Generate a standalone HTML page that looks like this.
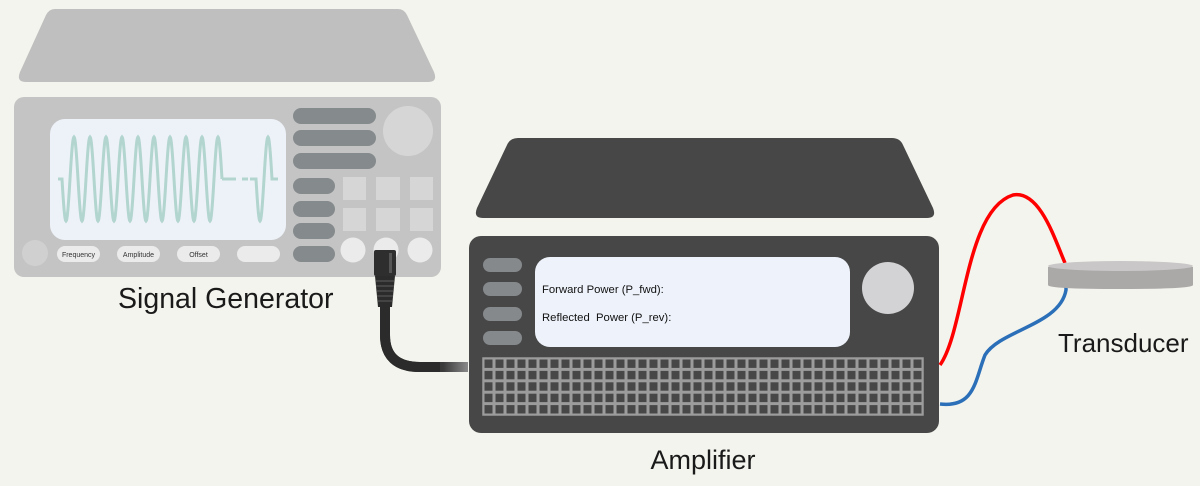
<!DOCTYPE html>
<html><head><meta charset="utf-8"><style>
html,body{margin:0;padding:0;background:#f4f4ee;}
svg{display:block;}
text{font-family:"Liberation Sans",sans-serif;}
</style></head><body>
<svg id="s" width="1200" height="486" viewBox="0 0 1200 486" xmlns="http://www.w3.org/2000/svg">
<defs>
<pattern id="g" x="483" y="358" width="11" height="11.4" patternUnits="userSpaceOnUse">
<rect width="11" height="11.4" fill="#9c9c9c"/>
<rect x="1.5" y="1.5" width="8" height="8.4" fill="#474747"/>
</pattern>
<linearGradient id="cg" x1="0" x2="1" y1="0" y2="0">
<stop offset="0" stop-color="#2b2b2b"/><stop offset="0.7" stop-color="#3a3a3a"/><stop offset="1" stop-color="#8a8a8a"/>
</linearGradient>
</defs>
<rect width="1200" height="486" fill="#f4f4ee"/>
<!-- Signal generator -->
<path d="M55 9 H398 Q404 9 407 15 L434 72 Q438 82 428 82 H26 Q16 82 20 72 L46 15 Q49 9 55 9 Z" fill="#bfbfbf"/>
<rect x="14" y="97" width="427" height="180" rx="10" fill="#c4c4c4"/>
<rect x="50" y="119" width="236" height="121" rx="15" fill="#edf2f8"/>
<g id="wave" fill="none" stroke="#b2d5cf" stroke-width="3"></g>
<g fill="#858a8c">
<rect x="293" y="108" width="83" height="16" rx="8"/>
<rect x="293" y="130" width="83" height="16" rx="8"/>
<rect x="293" y="153" width="83" height="16" rx="8"/>
<rect x="293" y="178" width="42" height="16" rx="8"/>
<rect x="293" y="201" width="42" height="16" rx="8"/>
<rect x="293" y="223" width="42" height="16" rx="8"/>
<rect x="293" y="246" width="42" height="16" rx="8"/>
</g>
<g fill="#d6d6d6">
<rect x="343" y="177" width="23" height="23"/><rect x="376" y="177" width="24" height="23"/><rect x="410" y="177" width="23" height="23"/>
<rect x="343" y="208" width="23" height="23"/><rect x="376" y="208" width="24" height="23"/><rect x="410" y="208" width="23" height="23"/>
</g>
<circle cx="408" cy="131" r="25" fill="#d6d6d6"/>
<g fill="#ebebeb">
<circle cx="353" cy="250" r="12.5"/><circle cx="386" cy="250" r="12.5"/><circle cx="420" cy="250" r="12.5"/>
<rect x="57" y="246" width="43" height="16" rx="8"/><rect x="117" y="246" width="43" height="16" rx="8"/>
<rect x="177" y="246" width="43" height="16" rx="8"/><rect x="237" y="246" width="43" height="16" rx="8"/>
</g>
<circle cx="35" cy="253" r="13" fill="#d0d0d0"/>
<g font-size="7" fill="#333" text-anchor="middle">
<text x="78.5" y="257">Frequency</text><text x="138.5" y="257">Amplitude</text><text x="198.5" y="257">Offset</text>
</g>
<text x="118" y="308" font-size="28.5" fill="#1a1a1a">Signal Generator</text>
<!-- cable -->
<path d="M385 300 V335 Q385 367 420 367 H468" fill="none" stroke="url(#cg)" stroke-width="10"/>
<path d="M385 300 V335 Q385 367 420 367 H440" fill="none" stroke="#2b2b2b" stroke-width="10"/>
<rect x="374" y="250" width="22" height="26" rx="2" fill="#2e2e2e"/>
<rect x="389" y="253" width="3" height="20" fill="#555"/>
<path d="M375 276 H395 L392 307 H378 Z" fill="#2b2b2b"/>
<g stroke="#555" stroke-width="1.2"><line x1="376" y1="281" x2="394" y2="281"/><line x1="376" y1="286" x2="394" y2="286"/><line x1="377" y1="291" x2="393" y2="291"/><line x1="377" y1="296" x2="393" y2="296"/><line x1="378" y1="301" x2="392" y2="301"/></g>
<!-- Amplifier -->
<path d="M518 138 H892 Q900 138 903 145 L933 208 Q937 218 927 218 H483 Q473 218 477 208 L507 145 Q510 138 518 138 Z" fill="#474747"/>
<rect x="469" y="236" width="470" height="197" rx="12" fill="#474747"/>
<g fill="#85898b">
<rect x="483" y="258" width="39" height="14" rx="7"/><rect x="483" y="282" width="39" height="14" rx="7"/>
<rect x="483" y="307" width="39" height="14" rx="7"/><rect x="483" y="331" width="39" height="14" rx="7"/>
</g>
<rect x="535" y="257" width="315" height="90" rx="15" fill="#eef3fb"/>
<text x="542" y="293" font-size="11.3" fill="#111">Forward Power (P_fwd):</text>
<text x="542" y="321" font-size="11.3" fill="#111" xml:space="preserve">Reflected  Power (P_rev):</text>
<circle cx="888" cy="288" r="26" fill="#d3d3d5"/>
<rect x="483" y="358" width="440" height="57" fill="url(#g)" stroke="#9c9c9c" stroke-width="1.5"/>
<text x="703" y="469" font-size="27" fill="#1a1a1a" text-anchor="middle">Amplifier</text>
<!-- wires -->
<path d="M940 365 C965 330 965 210 1013 195 C1040 190 1055 240 1065 263" fill="none" stroke="#f00" stroke-width="3.5"/>
<path d="M940 404 C975 408 975 380 985 355 C1000 330 1060 325 1066 290 V286" fill="none" stroke="#2a6fb8" stroke-width="3.5"/>
<!-- transducer -->
<path d="M1048 267 V285 Q1048 289 1120 289 Q1193 289 1193 285 V267 Z" fill="#aba8a8"/>
<ellipse cx="1120.5" cy="266" rx="72.5" ry="5" fill="#c9c7c7"/>
<text x="1058" y="352" font-size="26" fill="#1a1a1a">Transducer</text>
</svg>
<script>
(function(){
var ns="http://www.w3.org/2000/svg",g=document.getElementById("wave");
function add(d){var p=document.createElementNS(ns,"path");p.setAttribute("d",d);g.appendChild(p);}
var y0=179,A=42,x0=62,per=16,n=10,d="M"+(x0-4)+" "+y0+" H"+x0;
for(var i=0;i<=n*40;i++){var x=x0+i*per/40;d+=" L"+x.toFixed(2)+" "+(y0+A*Math.sin(-2*Math.PI*i/40+Math.PI)).toFixed(2);}
add(d);
add("M"+(x0+n*per)+" "+y0+" H"+(x0+n*per+8));
add("M230 179 H236 M242 179 H248");
var d2="M250 179",xs=256;d2+=" H"+xs;
for(var i=0;i<=40;i++){var x=xs+i*per/40;d2+=" L"+x.toFixed(2)+" "+(y0-A*Math.sin(2*Math.PI*i/40)*-1).toFixed(2);}
d2+=" H278";add(d2);
})();
</script>
</body></html>
